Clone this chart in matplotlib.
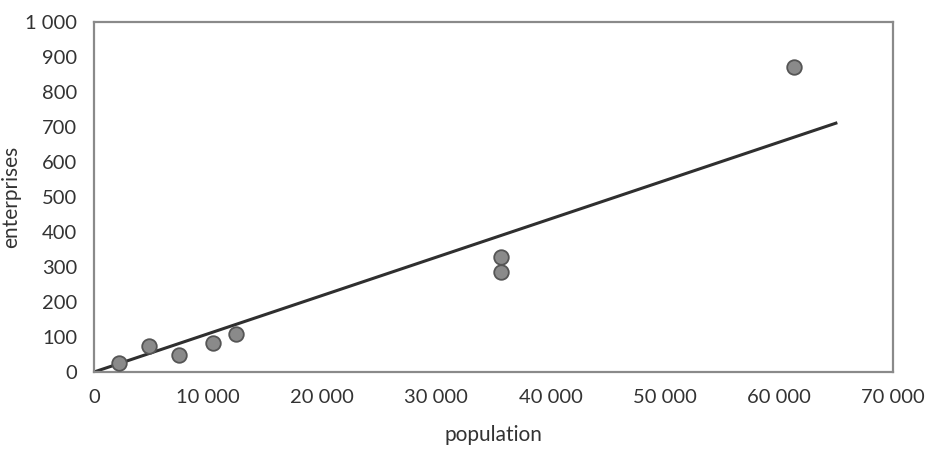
import matplotlib
matplotlib.use('Agg')
import matplotlib.pyplot as plt
from matplotlib.ticker import FuncFormatter, MultipleLocator

plt.rcParams['font.family'] = ['Lato', 'DejaVu Sans']

# data
population = [2200, 4800, 7450, 10450, 12450, 35700, 35700, 61300]
enterprises = [26, 74, 49, 83, 109, 329, 286, 871]

# fitted trend line (through the origin)
trend_x = [0, 65000]
trend_y = [0, 711]

def thousands(v, pos):
    return f'{int(v):,}'.replace(',', ' ')

fig = plt.figure(figsize=(9.29, 4.53), dpi=100)
ax = fig.add_axes([0.1012, 0.1788, 0.8600, 0.7726])

ax.plot(trend_x, trend_y, color='#2f2f2f', linewidth=2.2, zorder=2)
ax.scatter(population, enterprises, s=110, color='#8a8a8a',
           edgecolor='#555555', linewidth=1.3, zorder=3)

ax.set_xlim(0, 70000)
ax.set_ylim(0, 1000)
ax.xaxis.set_major_locator(MultipleLocator(10000))
ax.yaxis.set_major_locator(MultipleLocator(100))
ax.xaxis.set_major_formatter(FuncFormatter(thousands))
ax.yaxis.set_major_formatter(FuncFormatter(thousands))
ax.tick_params(length=0, labelsize=14.5, colors='#333333', pad=12)

for s in ax.spines.values():
    s.set_color('#8a8a8a')
    s.set_linewidth(1.6)

ax.set_xlabel('population', fontsize=15, color='#333333', labelpad=14)
ax.set_ylabel('enterprises', fontsize=15, color='#333333', labelpad=3)

fig.savefig('out.png', dpi=100)
